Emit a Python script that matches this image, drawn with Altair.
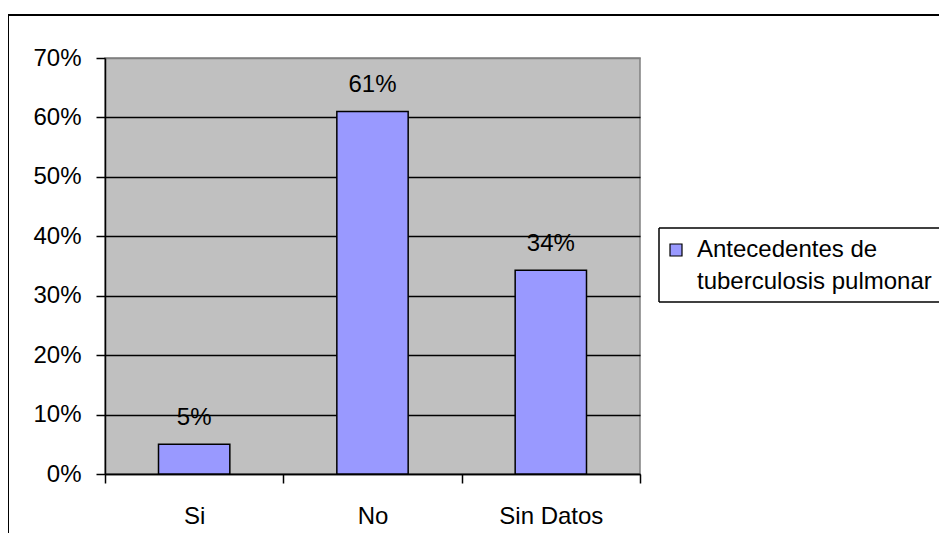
import altair as alt
import pandas as pd

categories = ["Si", "No", "Sin Datos"]
values = [0.05, 0.61, 0.343]
series_name = "Antecedentes de\ntuberculosis pulmonar"
y_ticks = [0.0, 0.1, 0.2, 0.3, 0.4, 0.5, 0.6, 0.7]

FONT = "Liberation Sans"
FS = 24

df = pd.DataFrame({"cat": categories, "value": values})
legend_df = pd.DataFrame({"series": [series_name]})

x_enc = alt.X(
    "cat:N",
    sort=categories,
    scale=alt.Scale(paddingInner=0, paddingOuter=0),
    axis=alt.Axis(
        title=None,
        labelAngle=0,
        tickBand="extent",
        tickSize=9,
        tickColor="black",
        tickWidth=1.5,
        domainColor="black",
        domainWidth=1.5,
        labelPadding=21,
        labelFontSize=FS,
    ),
)
y_enc = alt.Y(
    "value:Q",
    scale=alt.Scale(domain=[0, 0.7], nice=False),
    axis=alt.Axis(
        title=None,
        values=y_ticks,
        format=".0%",
        tickSize=9,
        tickColor="black",
        tickWidth=1.5,
        domainColor="black",
        domainWidth=1.5,
        labelPadding=15,
        labelFontSize=FS,
        gridColor={"condition": {"test": "datum.value >= 0.69", "value": "#808080"}, "value": "black"},
        gridWidth=1.5,
    ),
)

bars = alt.Chart(df).mark_bar(
    color="#9999FF", stroke="black", strokeWidth=1.5,
    width=alt.RelativeBandSize(0.4)
).encode(x=x_enc, y=y_enc)

labels = alt.Chart(df).mark_text(
    dy=-26, fontSize=FS, font=FONT, color="black", baseline="middle"
).encode(x=alt.X("cat:N", sort=categories), y="value:Q", text=alt.Text("value:Q", format=".0%"))

# outer chart frame (left and top edges; the rest lies outside the picture)
frame_top = alt.Chart(legend_df).mark_rule(color="black", strokeWidth=2).encode(
    x=alt.value(-97), x2=alt.value(900), y=alt.value(-43))
frame_left = alt.Chart(legend_df).mark_rule(color="black", strokeWidth=2).encode(
    x=alt.value(-97), y=alt.value(-43), y2=alt.value(700))

# legend box (runs off the right edge)
legend_fill = alt.Chart(legend_df).mark_rect(fill="white").encode(
    x=alt.value(554), x2=alt.value(900), y=alt.value(170), y2=alt.value(244))
legend_top = alt.Chart(legend_df).mark_rule(color="black", strokeWidth=1.5).encode(
    x=alt.value(554), x2=alt.value(900), y=alt.value(170))
legend_bottom = alt.Chart(legend_df).mark_rule(color="black", strokeWidth=1.5).encode(
    x=alt.value(554), x2=alt.value(900), y=alt.value(244))
legend_left = alt.Chart(legend_df).mark_rule(color="black", strokeWidth=1.5).encode(
    x=alt.value(554), y=alt.value(170), y2=alt.value(244))

legend_sym = alt.Chart(legend_df).mark_rect(
    fill="#9999FF", stroke="black", strokeWidth=1.2
).encode(x=alt.value(565), x2=alt.value(577), y=alt.value(186), y2=alt.value(198))

legend_text = alt.Chart(legend_df).mark_text(
    align="left", baseline="middle", fontSize=24, font=FONT, color="black",
    lineBreak="\n", lineHeight=32
).encode(x=alt.value(592), y=alt.value(192), text="series:N")

chart = alt.layer(
    bars, labels, frame_top, frame_left,
    legend_fill, legend_top, legend_bottom, legend_left, legend_sym, legend_text
).properties(
    width=535,
    height=416,
    background="white",
    autosize=alt.AutoSizeParams(type="none"),
    padding={"left": 97, "top": 50, "right": 299, "bottom": 59},
).configure_view(
    fill="#C0C0C0", stroke="#808080", strokeWidth=1.5
).configure_axis(
    labelFont=FONT, labelColor="black"
)

chart.save("out.html", embed_options={"renderer": "svg", "actions": False})
